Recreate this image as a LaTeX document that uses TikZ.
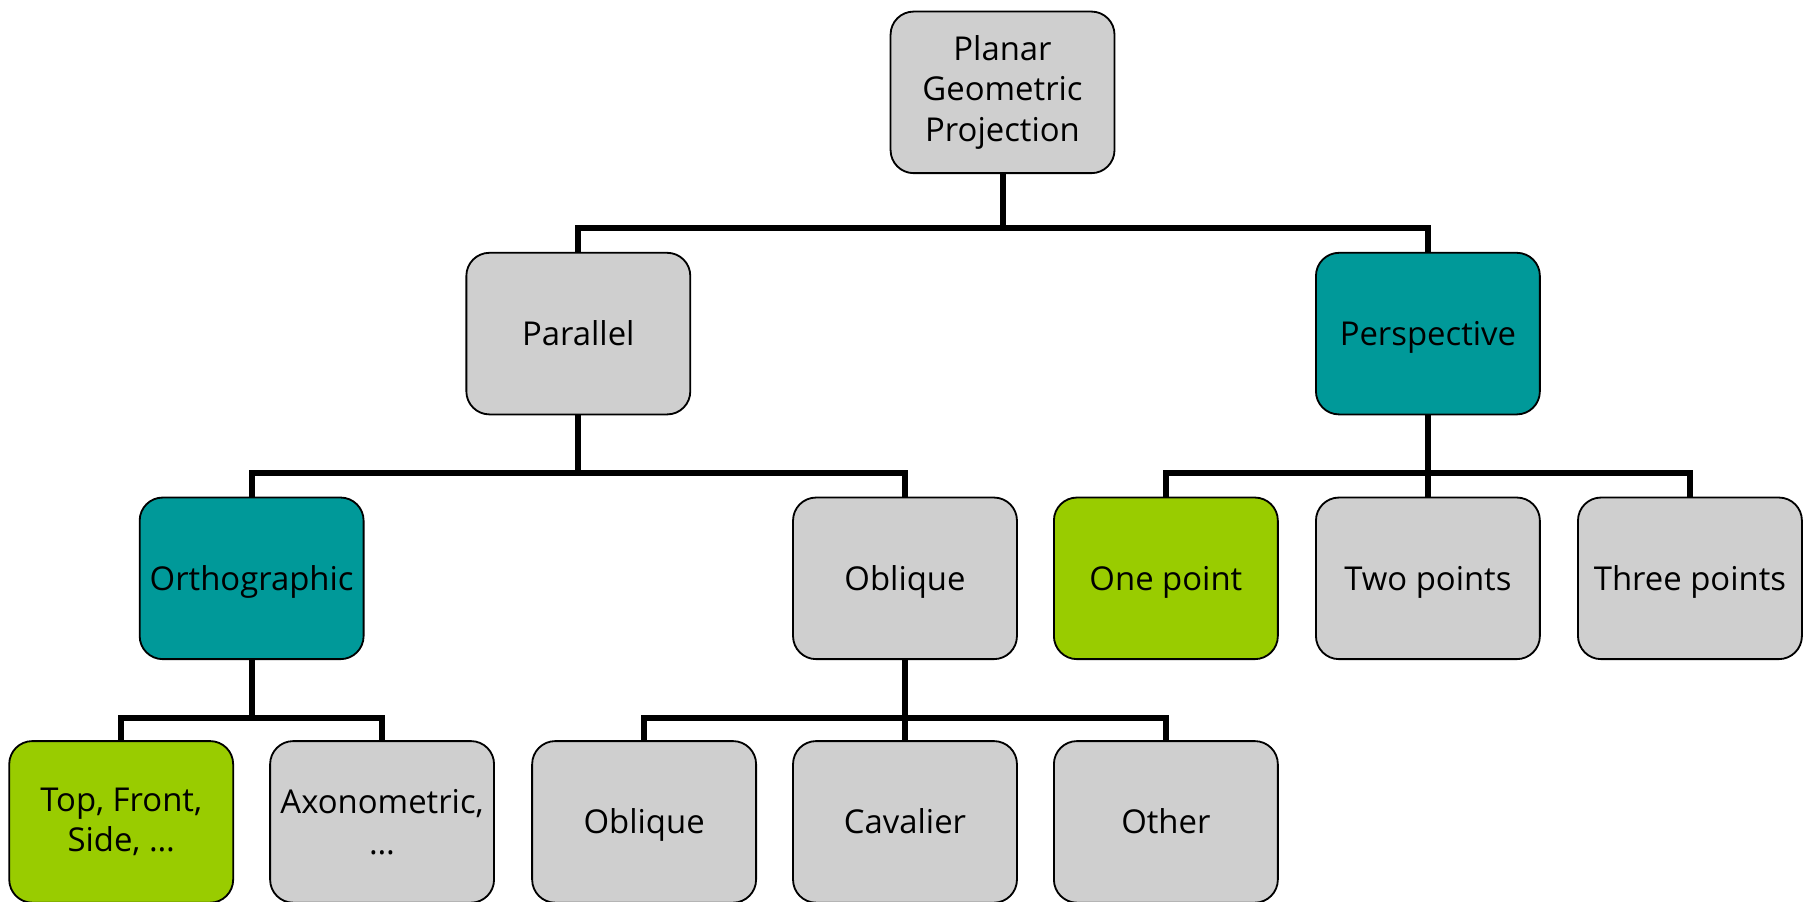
\documentclass[tikz,border=0pt]{standalone}
\usepackage{fontspec}
\setmainfont{Open Sans}

\definecolor{boxgray}{HTML}{CFCFCF}
\definecolor{boxteal}{HTML}{009999}
\definecolor{boxgreen}{HTML}{99CC00}

\begin{document}
\begin{tikzpicture}[x=0.1mm,y=-0.1mm]
\tikzstyle{box}=[draw,rounded corners=2mm,line width=0.45pt,minimum width=19.4mm,minimum height=14mm,inner xsep=0pt,align=center,font=\fontsize{8.1}{10}\selectfont,fill=boxgray];
\tikzstyle{teal}=[box,fill=boxteal];
\tikzstyle{green}=[box,fill=boxgreen];
\tikzstyle{one}=[text height=1.55ex,text depth=0.45ex];
\tikzstyle{link}=[line width=1.5pt];
\useasboundingbox (0,0) rectangle (1568,781);
\clip (0,0) rectangle (1568,781);
\node [box] (v1) at (868.5,80) {Planar\\Geometric\\Projection};
\node [box,one] (v2) at (501,289) {Parallel};
\node [teal,one] (v3) at (1237,289) {Perspective};
\node [teal,one] (v4) at (218,501) {Orthographic};
\node [box,one] (v5) at (784,501) {Oblique};
\node [green,one] (v6) at (1010,501) {One point};
\node [box,one] (v7) at (1237,501) {Two points};
\node [box,one] (v8) at (1464,501) {Three points};
\node [green] (v9) at (105,712) {Top, Front,\\Side, \dots};
\node [box] (v10) at (331,712) {Axonometric,\\\dots};
\node [box,one] (v11) at (558,712) {Oblique};
\node [box,one] (v12) at (784,712) {Cavalier};
\node [box,one] (v13) at (1010,712) {Other};
\draw [link] (v1.south) -- ++(0,47) -| (v2.north);
\draw [link] (v1.south) -- ++(0,47) -| (v3.north);
\draw [link] (v2.south) -- ++(0,50) -| (v4.north);
\draw [link] (v2.south) -- ++(0,50) -| (v5.north);
\draw [link] (v3.south) -- ++(0,50) -| (v6.north);
\draw [link] (v3.south) -- (v7.north);
\draw [link] (v3.south) -- ++(0,50) -| (v8.north);
\draw [link] (v4.south) -- ++(0,50) -| (v9.north);
\draw [link] (v4.south) -- ++(0,50) -| (v10.north);
\draw [link] (v5.south) -- ++(0,50) -| (v11.north);
\draw [link] (v5.south) -- (v12.north);
\draw [link] (v5.south) -- ++(0,50) -| (v13.north);
\end{tikzpicture}
\end{document}
